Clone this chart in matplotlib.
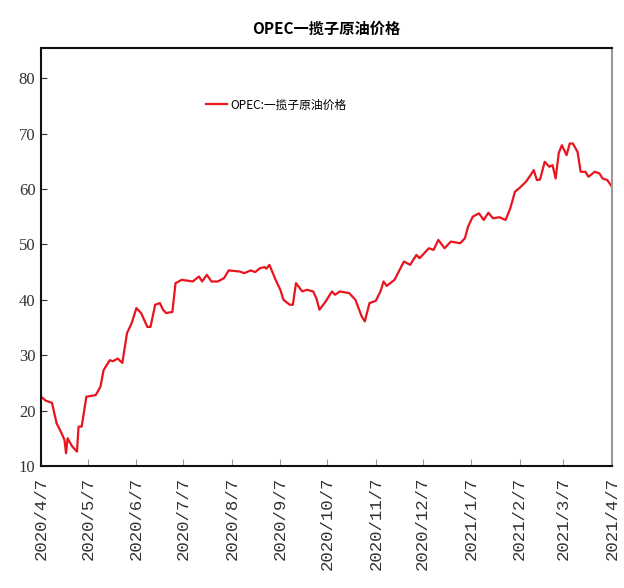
import matplotlib
matplotlib.use("Agg")
import matplotlib.pyplot as plt
import pandas as pd

plt.rcParams['font.family'] = ['Noto Sans CJK SC', 'DejaVu Sans']

title = "OPEC一揽子原油价格"
series_name = "OPEC:一揽子原油价格"
start_date = "2020-04-07"
tick_labels = ["2020/4/7", "2020/5/7", "2020/6/7", "2020/7/7", "2020/8/7", "2020/9/7",
               "2020/10/7", "2020/11/7", "2020/12/7", "2021/1/7", "2021/2/7", "2021/3/7", "2021/4/7"]
tick_dates = ["2020-04-07", "2020-05-07", "2020-06-07", "2020-07-07", "2020-08-07", "2020-09-07",
              "2020-10-07", "2020-11-07", "2020-12-07", "2021-01-07", "2021-02-07", "2021-03-07", "2021-04-07"]

# days after start date
day_offsets = [0, 3, 7, 10, 13, 15, 16, 17, 20, 23, 24, 26, 29, 35, 38, 40, 44, 46, 49, 52,
               55, 58, 61, 64, 68, 70, 73, 76, 78, 80, 84, 86, 90, 97, 101, 103, 106, 109, 113, 117,
               120, 127, 130, 134, 137, 140, 143, 144, 146, 150, 153, 155, 159, 161, 163, 167, 170, 174, 176, 178,
               182, 186, 188, 191, 197, 201, 205, 207, 210, 214, 217, 219, 221, 226, 232, 236, 240, 242, 248, 251,
               254, 258, 262, 268, 271, 273, 276, 280, 283, 286, 289, 293, 297, 300, 303, 306, 310, 313, 315, 317,
               319, 322, 325, 327, 329, 331, 333, 336, 338, 340, 343, 345, 348, 350, 354, 357, 359, 362, 365]
prices = [22.5, 21.8, 21.4, 17.7, 16.0, 14.7, 12.3, 15.0, 13.5, 12.6, 17.1, 17.1, 22.5, 22.8, 24.3, 27.3, 29.1, 28.9, 29.4, 28.6,
          34.0, 35.8, 38.5, 37.6, 35.1, 35.1, 39.1, 39.4, 38.2, 37.6, 37.8, 43.0, 43.6, 43.3, 44.2, 43.3, 44.5, 43.3, 43.3, 43.9,
          45.3, 45.1, 44.8, 45.3, 45.0, 45.7, 45.9, 45.6, 46.3, 43.6, 41.8, 40.0, 39.1, 39.1, 43.0, 41.5, 41.8, 41.5, 40.3, 38.2,
          39.7, 41.5, 40.9, 41.5, 41.2, 40.0, 37.0, 36.1, 39.4, 39.8, 41.5, 43.3, 42.5, 43.6, 46.9, 46.3, 48.1, 47.5, 49.3, 49.0,
          50.8, 49.3, 50.5, 50.2, 51.1, 53.2, 55.0, 55.6, 54.4, 55.7, 54.7, 54.9, 54.4, 56.5, 59.5, 60.2, 61.3, 62.5, 63.4, 61.6,
          61.7, 64.9, 64.0, 64.3, 61.9, 66.5, 67.9, 66.1, 68.2, 68.2, 66.7, 63.1, 63.1, 62.2, 63.1, 62.8, 61.9, 61.6, 60.4]
y_ticks = [10, 20, 30, 40, 50, 60, 70, 80]

dates = pd.Timestamp(start_date) + pd.to_timedelta(day_offsets, unit="D")

fig = plt.figure(figsize=(6.24, 5.88), dpi=100)
ax = fig.add_axes([0.0657, 0.2075, 0.915, 0.7105])
ax.plot(dates, prices, color="#E8141E", linewidth=1.6, label=series_name)

ax.set_ylim(10, 85.4)
ax.set_xlim(pd.Timestamp(tick_dates[0]), pd.Timestamp(tick_dates[-1]))
ax.set_yticks(y_ticks)
ax.set_yticklabels([str(v) for v in y_ticks], family=["Liberation Serif"], fontsize=12, color="#333333")
ax.set_xticks([pd.Timestamp(d) for d in tick_dates])
ax.set_xticklabels(tick_labels, rotation=90, family=["Liberation Mono"], fontsize=12.5, color="#333333")
ax.tick_params(axis="x", direction="in", length=5, color="#999999", pad=8)
ax.tick_params(axis="y", direction="in", length=4, color="#333333", pad=4)

for s in ["left", "bottom", "top"]:
    ax.spines[s].set_color("#111111")
    ax.spines[s].set_linewidth(1.5)
ax.spines["right"].set_color("#999999")
ax.spines["right"].set_linewidth(1.5)

ax.set_title(title, fontsize=11, fontweight="bold", pad=10)
leg = ax.legend(loc="upper left", bbox_to_anchor=(0.27, 0.905), frameon=False,
                fontsize=8.5, handlelength=1.8, handletextpad=0.3)

fig.savefig("out.png", dpi=100)
